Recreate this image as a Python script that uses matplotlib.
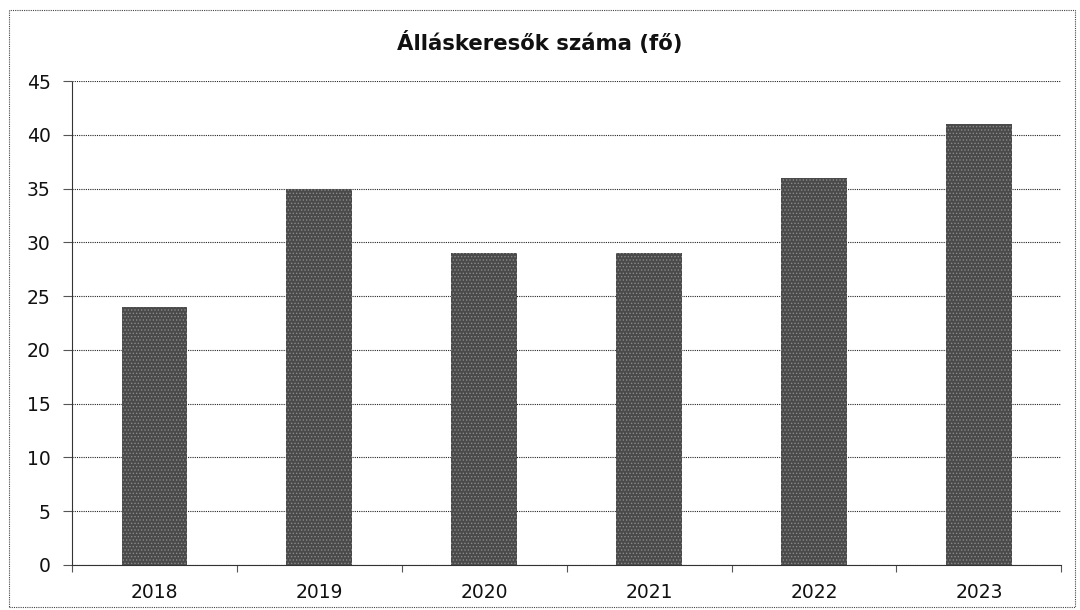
import numpy as np
import matplotlib.pyplot as plt
from matplotlib.patches import Rectangle

plt.rcParams['font.family'] = ['DejaVu Sans']
plt.rcParams['hatch.linewidth'] = 0.6
plt.rcParams['hatch.color'] = '#8a8a8a'

years = ['2018', '2019', '2020', '2021', '2022', '2023']
values = [24, 35, 29, 29, 36, 41]
title = 'Álláskeresők száma (fő)'

fig = plt.figure(figsize=(10.8, 6.1), dpi=100)
ax = fig.add_axes([0.0667, 0.0738, 0.916, 0.793])

x = np.arange(len(years))
ax.bar(x, values, width=0.4, color='#4a4a4a', hatch='.....', edgecolor='#8a8a8a',
       linewidth=0, zorder=3)

ax.set_xlim(-0.5, len(years) - 0.5)
ax.set_ylim(0, 45)
ax.set_yticks(np.arange(0, 46, 5))
ax.yaxis.grid(True, color='#222222', linestyle=(0, (1, 1)), linewidth=0.8, zorder=0)

ax.set_xticks(x)
ax.set_xticklabels(years)
ax.set_xticks(np.arange(-0.5, len(years), 1), minor=True)
ax.tick_params(axis='x', which='major', length=0, pad=13, labelsize=13.5, labelcolor='#111111')
ax.tick_params(axis='x', which='minor', length=5, color='#555555', width=0.8)
ax.tick_params(axis='y', length=6.5, color='#555555', width=0.8, labelsize=13.5,
               pad=9, labelcolor='#111111')

for s in ['top', 'right']:
    ax.spines[s].set_visible(False)
for s in ['left', 'bottom']:
    ax.spines[s].set_linestyle((0, (1, 1)))
    ax.spines[s].set_color('#333333')
    ax.spines[s].set_linewidth(0.8)

fig.text(0.5, 0.931, title, ha='center', va='center', fontsize=15.3,
         fontweight='bold', color='#111111')

fig.patches.append(Rectangle((0.008, 0.005), 0.987, 0.978, transform=fig.transFigure,
                             fill=False, edgecolor='#444444', linestyle=(0, (1, 1)),
                             linewidth=0.8))

fig.savefig('out.png', dpi=100)
